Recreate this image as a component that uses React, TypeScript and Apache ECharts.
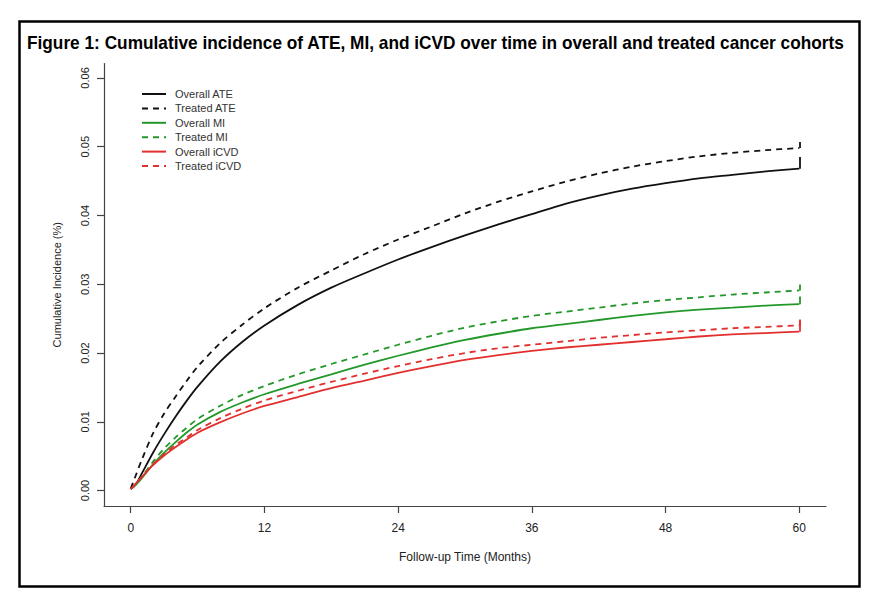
import React, { useEffect, useRef } from "react";
import * as echarts from "echarts";

const TITLE = "Figure 1: Cumulative incidence of ATE, MI, and iCVD over time in overall and treated cancer cohorts";
const X_NAME = "Follow-up Time (Months)";
const Y_NAME = "Cumulative Incidence (%)";

const xTicks = [0, 12, 24, 36, 48, 60];
const yTicks = [0, 0.01, 0.02, 0.03, 0.04, 0.05, 0.06];

// follow-up months
const months = [0, 0.5, 1, 2, 3, 4, 5, 6, 8, 10, 12, 15, 18, 21, 24, 27, 30, 33, 36, 39, 42, 45, 48, 51, 54, 57, 60];

const overallATE = [0.0002, 0.001, 0.0025, 0.0055, 0.0082, 0.0107, 0.013, 0.0151, 0.0187, 0.0216, 0.024, 0.027, 0.0295, 0.0316, 0.0336, 0.0354, 0.0371, 0.0387, 0.0402, 0.0417, 0.0429, 0.0439, 0.0447, 0.0454, 0.0459, 0.0464, 0.0468];
const treatedATE = [0.0003, 0.0024, 0.0045, 0.0083, 0.0112, 0.0136, 0.0159, 0.018, 0.0214, 0.0241, 0.0265, 0.0295, 0.032, 0.0344, 0.0365, 0.0384, 0.0403, 0.042, 0.0435, 0.0449, 0.0461, 0.0471, 0.0479, 0.0486, 0.0491, 0.0495, 0.0498];
const overallMI = [0.0002, 0.0009, 0.0018, 0.0038, 0.0055, 0.007, 0.0084, 0.0096, 0.0114, 0.0128, 0.014, 0.0155, 0.0169, 0.0183, 0.0196, 0.0208, 0.0219, 0.0228, 0.0236, 0.0242, 0.0248, 0.0254, 0.0259, 0.0263, 0.0266, 0.0269, 0.0271];
const treatedMI = [0.0002, 0.001, 0.002, 0.0042, 0.0061, 0.0077, 0.0091, 0.0104, 0.0123, 0.0139, 0.0152, 0.0169, 0.0184, 0.0198, 0.0212, 0.0225, 0.0237, 0.0246, 0.0254, 0.026, 0.0266, 0.0272, 0.0277, 0.0281, 0.0285, 0.0288, 0.0291];
const overallICVD = [0.0002, 0.0011, 0.002, 0.0037, 0.0051, 0.0063, 0.0074, 0.0084, 0.0099, 0.0112, 0.0123, 0.0136, 0.0149, 0.016, 0.0171, 0.0181, 0.019, 0.0197, 0.0203, 0.0208, 0.0212, 0.0216, 0.022, 0.0224, 0.0227, 0.0229, 0.0231];
const treatedICVD = [0.0002, 0.0011, 0.002, 0.0038, 0.0053, 0.0066, 0.0077, 0.0088, 0.0105, 0.0119, 0.0131, 0.0145, 0.0158, 0.017, 0.0181, 0.0191, 0.02, 0.0207, 0.0212, 0.0217, 0.0222, 0.0226, 0.023, 0.0233, 0.0236, 0.0238, 0.024];

// last step of each curve at 60 months (top of the final vertical segment)
const finalStep = [0.0485, 0.051, 0.0282, 0.0301, 0.0247, 0.0249];

const seriesNames = ["Overall ATE", "Treated ATE", "Overall MI", "Treated MI", "Overall iCVD", "Treated iCVD"];
const seriesValues = [overallATE, treatedATE, overallMI, treatedMI, overallICVD, treatedICVD];
const seriesColors = ["#111111", "#111111", "#23982a", "#23982a", "#e2302f", "#e2302f"];
const seriesDashed = [false, true, false, true, false, true];

const FONT = "'Liberation Sans', Arial, Helvetica, sans-serif";

export default function App() {
  const ref = useRef<HTMLDivElement>(null);

  useEffect(() => {
    if (!ref.current) return;
    const chart = echarts.init(ref.current, null, { renderer: "svg" });

    // fit the bold title into the width it has in the reference
    let titleScale = 1;
    const cv = document.createElement("canvas").getContext("2d");
    if (cv) {
      cv.font = "bold 18px 'Liberation Sans', Arial, sans-serif";
      const w = cv.measureText(TITLE).width;
      if (w > 0) titleScale = 818 / w;
    }

    const series = seriesNames.map((name, i) => {
      const vals = seriesValues[i];
      const lastX = months[months.length - 1];
      const lineStyle = {
        color: seriesColors[i],
        width: 1.8,
        type: seriesDashed[i] ? [6, 5] : "solid",
      };
      return {
        name,
        type: "line",
        data: months.map((m, j) => [m, vals[j]]),
        symbol: "none",
        showSymbol: false,
        smooth: 0.3,
        lineStyle,
        itemStyle: { color: seriesColors[i] },
        z: 3,
        markLine: {
          silent: true,
          symbol: ["none", "none"],
          label: { show: false },
          lineStyle,
          data: [[{ coord: [lastX, vals[vals.length - 1]] }, { coord: [lastX, finalStep[i]] }]],
        },
      };
    });

    chart.setOption({
      animation: false,
      backgroundColor: "#ffffff",
      textStyle: { fontFamily: FONT },
      grid: { left: 104, top: 63.5, width: 722, height: 442.5, containLabel: false },
      legend: {
        orient: "vertical",
        left: 141,
        top: 87,
        padding: 0,
        itemWidth: 24,
        itemHeight: 2,
        itemGap: 0.4,
        itemStyle: { opacity: 0 },
        textStyle: { fontSize: 11, color: "#333", lineHeight: 14, padding: [0, 0, 0, 4], fontFamily: FONT },
        data: seriesNames,
      },
      xAxis: {
        type: "value",
        min: -2.4,
        max: 62.4,
        name: X_NAME,
        nameLocation: "middle",
        nameGap: 45,
        nameTextStyle: { fontSize: 12, color: "#222", fontFamily: FONT },
        axisLine: { show: true, onZero: false, lineStyle: { color: "#444", width: 1.2 } },
        axisTick: { show: true, length: 7, customValues: xTicks, lineStyle: { color: "#444", width: 1.2 } },
        axisLabel: { customValues: xTicks, margin: 16, fontSize: 12, color: "#222", fontFamily: FONT },
        splitLine: { show: false },
      },
      yAxis: {
        type: "value",
        min: -0.00225,
        max: 0.0621,
        name: Y_NAME,
        nameLocation: "middle",
        nameGap: 42,
        nameRotate: 90,
        nameTextStyle: { fontSize: 11, color: "#222", fontFamily: FONT },
        axisLine: { show: true, onZero: false, lineStyle: { color: "#444", width: 1.2 } },
        axisTick: { show: true, length: 7, customValues: yTicks, lineStyle: { color: "#444", width: 1.2 } },
        axisLabel: {
          customValues: yTicks,
          rotate: 90,
          margin: 14,
          fontSize: 11,
          color: "#222",
          fontFamily: FONT,
          formatter: (v: number) => v.toFixed(2),
        },
        splitLine: { show: false },
      },
      graphic: [
        {
          type: "rect",
          shape: { x: 19.5, y: 21.5, width: 840, height: 565 },
          style: { fill: "none", stroke: "#000", lineWidth: 2.5 },
          silent: true,
        },
        {
          type: "text",
          x: 27,
          y: 43,
          scaleX: titleScale,
          style: {
            text: TITLE,
            fill: "#000",
            font: "bold 18px 'Liberation Sans', Arial, sans-serif",
            textVerticalAlign: "middle",
            verticalAlign: "middle",
          },
          silent: true,
        },
      ],
      series,
    });

    return () => chart.dispose();
  }, []);

  return (
    <div
      ref={ref}
      style={{ position: "absolute", left: 0, top: 0, width: 876, height: 600 }}
    />
  );
}
